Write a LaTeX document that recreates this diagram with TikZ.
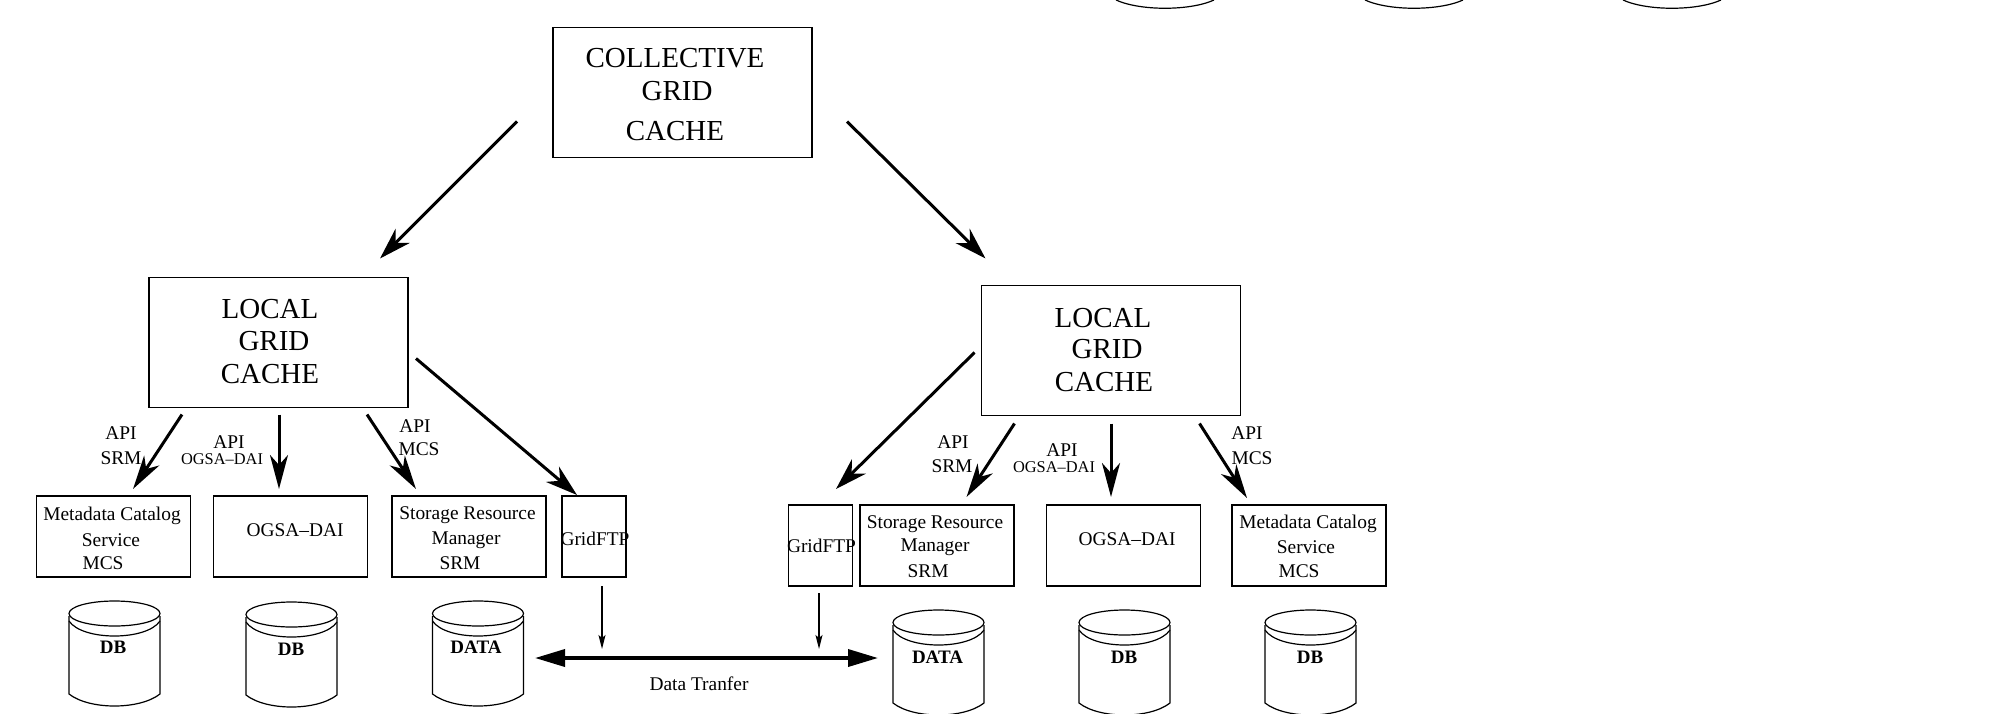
\documentclass[tikz,border=0pt]{standalone}
\usepackage{fontspec}
\setmainfont{Liberation Serif}
\usetikzlibrary{arrows.meta}
\tikzset{
	box/.style={draw, line width=0.6pt, inner sep=0pt, outer sep=0pt},
	cachebox/.style={box, minimum width=129.5pt, minimum height=65pt},
	svcbox/.style={box, minimum width=77pt, minimum height=40.5pt},
	ftpbox/.style={box, minimum width=32pt, minimum height=40.5pt},
	bigtext/.style={font=\fontsize{14.5}{16}\selectfont, inner sep=0pt},
	svctext/.style={font=\fontsize{9.7}{11}\selectfont, inner sep=0pt},
	smalltext/.style={font=\fontsize{8.2}{10}\selectfont, inner sep=0pt},
	dbtext/.style={font=\fontsize{9.5}{11}\selectfont\bfseries, inner sep=0pt},
	cachearrow/.style={-{Stealth[length=16pt,width=10pt,inset=5pt]}, line width=1.5pt},
	apiarrow/.style={-{Stealth[length=17pt,width=9pt,inset=5pt]}, line width=1.5pt},
	ftparrow/.style={-{Stealth[length=7pt,width=3.5pt,inset=1.5pt]}, line width=0.7pt},
	dataarrow/.style={{Triangle[length=15pt,width=8.5pt]}-{Triangle[length=15pt,width=8.5pt]}, line width=1.8pt},
	dbcyl/.pic={
		\draw[line width=0.6pt] (0,12.5) ellipse (45.5 and 12.5);
		\draw[line width=0.6pt] (-45.5,20) .. controls (-32,40) and (32,40) .. (45.5,20);
		\draw[line width=0.6pt] (-45.5,15) -- (-45.5,93) .. controls (-25,109) and (25,109) .. (45.5,93) -- (45.5,15);
	}
}

\begin{document}
\begin{tikzpicture}[x=0.5pt, y=-0.5pt]
	\useasboundingbox (0,0) rectangle (2012,713);
	% top
	\node[cachebox] (collective) at (682.5,92.5) {};
	\node[bigtext] (collectiveA) at (675,58) {COLLECTIVE};
	\node[bigtext] (collectiveB) at (677,91) {GRID};
	\node[bigtext] (collectiveC) at (675,131) {CACHE};
	\node[cachebox] (localL) at (278.5,342.5) {};
	\node[bigtext] (localLA) at (270,309) {LOCAL};
	\node[bigtext] (localLB) at (274,341) {GRID};
	\node[bigtext] (localLC) at (270,374) {CACHE};
	\node[cachebox] (localR) at (1111,350.5) {};
	\node[bigtext] (localRA) at (1103,318) {LOCAL};
	\node[bigtext] (localRB) at (1107,349) {GRID};
	\node[bigtext] (localRC) at (1104,382) {CACHE};
	% left services
	\node[svcbox] (metaL) at (113.5,536.5) {};
	\node[svctext] (metaLA) at (112,515.5) {Metadata Catalog};
	\node[svctext] (metaLB) at (111,540) {Service};
	\node[svctext] (metaLC) at (103,563) {MCS};
	\node[svcbox] (ogsaL) at (290.5,536.5) {};
	\node[svctext] (ogsaLA) at (295,530) {OGSA--DAI};
	\node[svcbox] (storeL) at (469,536.5) {};
	\node[svctext] (storeLA) at (467.5,515.5) {Storage Resource};
	\node[svctext] (storeLB) at (466,540) {Manager};
	\node[svctext] (storeLC) at (460,563) {SRM};
	\node[ftpbox] (ftpL) at (594,536.5) {};
	\node[svctext] (ftpLA) at (595,539) {GridFTP};
	% right services
	\node[ftpbox] (ftpR) at (820.5,545.5) {};
	\node[svctext] (ftpRA) at (821.5,546) {GridFTP};
	\node[svcbox] (storeR) at (937,545.5) {};
	\node[svctext] (storeRA) at (935,524) {Storage Resource};
	\node[svctext] (storeRB) at (935,547) {Manager};
	\node[svctext] (storeRC) at (928,571) {SRM};
	\node[svcbox] (ogsaR) at (1123.5,545.5) {};
	\node[svctext] (ogsaRA) at (1127,539) {OGSA--DAI};
	\node[svcbox] (metaR) at (1309,545.5) {};
	\node[svctext] (metaRA) at (1308,524) {Metadata Catalog};
	\node[svctext] (metaRB) at (1306,547) {Service};
	\node[svctext] (metaRC) at (1299,571) {MCS};
	% databases
	\pic (dbA) at (114.5,601) {dbcyl};
	\pic (dbB) at (291.5,602) {dbcyl};
	\pic (dbC) at (478,601) {dbcyl};
	\pic (dbD) at (938.5,610) {dbcyl};
	\pic (dbE) at (1124.5,610) {dbcyl};
	\pic (dbF) at (1310.5,610) {dbcyl};
	\node[dbtext] (dbAtext) at (113,647) {DB};
	\node[dbtext] (dbBtext) at (291,649) {DB};
	\node[dbtext] (dbCtext) at (476,647) {DATA};
	\node[dbtext] (dbDtext) at (937.5,657) {DATA};
	\node[dbtext] (dbEtext) at (1124,657) {DB};
	\node[dbtext] (dbFtext) at (1310,657) {DB};
	% labels
	\node[svctext] (apiA) at (121,433) {API};
	\node[svctext] (srmA) at (121,458) {SRM};
	\node[svctext] (apiB) at (229,442) {API};
	\node[smalltext] (ogsaB) at (222,459) {OGSA--DAI};
	\node[svctext] (apiC) at (415,426) {API};
	\node[svctext] (mcsC) at (419,449) {MCS};
	\node[svctext] (apiD) at (953,442) {API};
	\node[svctext] (srmD) at (952,466) {SRM};
	\node[svctext] (apiE) at (1062,450) {API};
	\node[smalltext] (ogsaE) at (1054,467) {OGSA--DAI};
	\node[svctext] (apiF) at (1247,433) {API};
	\node[svctext] (mcsF) at (1252,458) {MCS};
	\node[svctext] (transfer) at (699,684) {Data Tranfer};
	\coordinate (dataL) at (535,658);
	\coordinate (dataR) at (878,658);
	% arrows
	\draw[cachearrow] ([shift={(-36,-36)}]collective.south west) -- ([shift={(-28,-19)}]localL.north east);
	\draw[cachearrow] ([shift={(35,-36)}]collective.south east) -- ([shift={(4,-27)}]localR.north west);
	\draw[apiarrow] ([shift={(33,7)}]localL.south west) -- ([shift={(19.5,-7)}]metaL.north);
	\draw[apiarrow] ([shift={(0.5,7)}]localL.south) -- ([shift={(-11.5,-7)}]ogsaL.north);
	\draw[apiarrow] ([shift={(-41,7)}]localL.south east) -- ([shift={(-53,-7)}]storeL.north);
	\draw[cachearrow] ([shift={(8,-49)}]localL.south east) -- ([shift={(-17,-1)}]ftpL.north);
	\draw[cachearrow] ([shift={(-7,-63)}]localR.south west) -- ([shift={(15.5,-16)}]ftpR.north);
	\draw[apiarrow] ([shift={(33,8)}]localR.south west) -- ([shift={(29.5,-8)}]storeR.north);
	\draw[apiarrow] ([shift={(0,8)}]localR.south) -- ([shift={(-12.5,-8)}]ogsaR.north);
	\draw[apiarrow] ([shift={(-41,8)}]localR.south east) -- ([shift={(-62,-7)}]metaR.north);
	\draw[ftparrow] ([shift={(8,9)}]ftpL.south) -- ([shift={(8,72)}]ftpL.south);
	\draw[ftparrow] ([shift={(-1.5,7)}]ftpR.south) -- ([shift={(-1.5,63)}]ftpR.south);
	\draw[dataarrow] (dataL) -- (dataR);
	% top arcs
	\draw[line width=0.6pt] (1116,0) .. controls (1140,11) and (1190,11) .. (1214,0);
	\draw[line width=0.6pt] (1365,0) .. controls (1389,11) and (1439,11) .. (1463,0);
	\draw[line width=0.6pt] (1623,0) .. controls (1647,11) and (1697,11) .. (1721,0);
\end{tikzpicture}
\end{document}
